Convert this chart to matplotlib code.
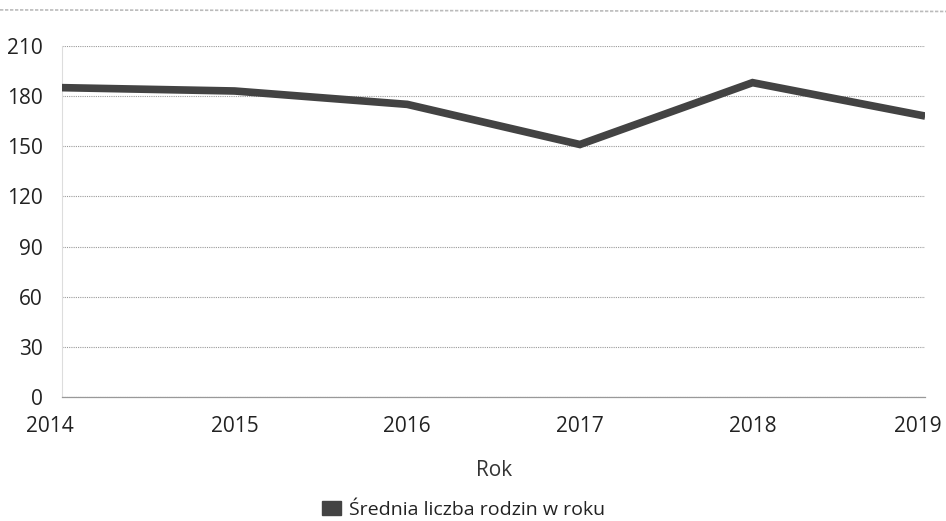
import matplotlib.pyplot as plt
import matplotlib.transforms as mtransforms
from matplotlib.patches import Patch
from matplotlib.lines import Line2D

# average number of families per year
years = [2014, 2015, 2016, 2017, 2018, 2019]
families = [185, 183, 175, 151, 188, 168]
y_ticks = [0, 30, 60, 90, 120, 150, 180, 210]

plt.rcParams['font.family'] = ['Open Sans', 'DejaVu Sans']

fig = plt.figure(figsize=(9.46, 5.21), dpi=100)
ax = fig.add_axes([0.0655, 0.238, 0.9125, 0.674])

ax.plot(years, families, color='#434343', linewidth=5.5, solid_joinstyle='miter',
        solid_capstyle='butt', zorder=3)

ax.set_xlim(2014, 2019)
ax.set_ylim(0, 210)
ax.set_xticks(years)
ax.set_yticks(y_ticks)
ax.tick_params(axis='both', length=0, labelsize=15, colors='#222222')
ax.tick_params(axis='x', pad=14)
ax.tick_params(axis='y', pad=14)

# first and last year labels sit a bit off-centre so they stay inside the figure
xlabels = ax.get_xticklabels()
xlabels[0].set_transform(xlabels[0].get_transform() +
                         mtransforms.ScaledTranslation(-0.12, 0, fig.dpi_scale_trans))
xlabels[-1].set_horizontalalignment('right')
xlabels[-1].set_transform(xlabels[-1].get_transform() +
                          mtransforms.ScaledTranslation(0.16, 0, fig.dpi_scale_trans))

ax.yaxis.grid(True, color='#9a9a9a', linestyle=(0, (1, 1)), linewidth=0.8)
ax.set_axisbelow(True)
for side in ['top', 'right']:
    ax.spines[side].set_visible(False)
ax.spines['left'].set_color('#dddddd')
ax.spines['left'].set_linewidth(0.8)
ax.spines['bottom'].set_color('#999999')
ax.spines['bottom'].set_linewidth(0.9)

ax.set_xlabel('Rok', fontsize=15, color='#333333', labelpad=16)

handle = Patch(facecolor='#434343', edgecolor='#434343')
fig.legend([handle], ['Średnia liczba rodzin w roku'], loc='center',
           bbox_to_anchor=(0.49, 0.022), frameon=False, fontsize=14,
           handlelength=1.0, handleheight=0.7, handletextpad=0.4,
           labelcolor='#222222')

# faint rule along the top edge
fig.add_artist(Line2D([0.0, 1.0], [0.981, 0.978], color='#bbbbbb',
                      linewidth=1.2, linestyle=(0, (2, 1))))

fig.savefig('out.png', dpi=100, facecolor='white')
